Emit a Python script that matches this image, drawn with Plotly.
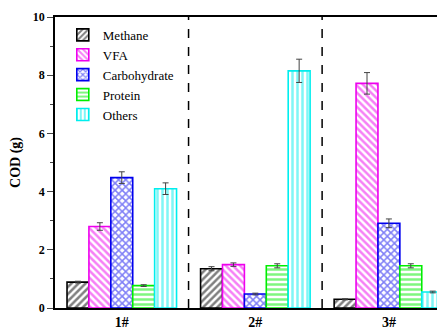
import plotly.graph_objects as go

groups = ["1#", "2#", "3#"]
series = ["Methane", "VFA", "Carbohydrate", "Protein", "Others"]
methane = [0.89, 1.35, 0.30]
vfa = [2.80, 1.49, 7.72]
carb = [4.48, 0.48, 2.91]
protein = [0.77, 1.45, 1.45]
others = [4.10, 8.15, 0.55]
methane_err = [0.03, 0.07, 0.02]
vfa_err = [0.13, 0.06, 0.37]
carb_err = [0.20, 0.03, 0.15]
protein_err = [0.03, 0.07, 0.07]
others_err = [0.20, 0.40, 0.03]
y_ticks = [0, 2, 4, 6, 8, 10]

values = [methane, vfa, carb, protein, others]
errors = [methane_err, vfa_err, carb_err, protein_err, others_err]
colors = ["#000000", "#EE00EE", "#0000EE", "#00EE00", "#00EEEE"]
shapes = ["/", "\\", "x", "-", "|"]

FONT = "'Liberation Serif', 'Times New Roman', Times, serif"
fig = go.Figure()
for name, v, e, c, s in zip(series, values, errors, colors, shapes):
    fig.add_trace(go.Bar(
        name=name, x=groups, y=v,
        error_y=dict(type="data", array=e, color="#444444", thickness=1, width=3),
        marker=dict(color="white", line=dict(color=c, width=1.6),
                    pattern=dict(shape=s, fgcolor=c, bgcolor="white", size=5, solidity=0.5)),
    ))

for xv in [0.5, 1.5]:
    fig.add_shape(type="line", x0=xv, x1=xv, y0=0, y1=10, xref="x", yref="y",
                  line=dict(color="black", width=1.5, dash="dash"))

fig.update_layout(
    width=445, height=328,
    margin=dict(l=47, r=8, t=9, b=28),
    barmode="group", bargap=0.18, bargroupgap=0,
    plot_bgcolor="white", paper_bgcolor="white",
    font=dict(family=FONT, color="black"),
    legend=dict(x=0.02, y=0.99, xanchor="left", yanchor="top",
                font=dict(family=FONT, size=13), bgcolor="rgba(0,0,0,0)",
                tracegroupgap=0, itemwidth=30),
    xaxis=dict(range=[-0.5, 2.42], showline=True, linecolor="black", linewidth=1.5,
               mirror=True, ticks="", automargin=False,
               tickfont=dict(family=FONT, size=14, weight="bold"), showgrid=False),
    yaxis=dict(range=[0, 10], tickvals=y_ticks, showline=True, linecolor="black",
               linewidth=1.5, ticks="outside", ticklen=6, tickwidth=1.2, showgrid=False,
               zeroline=False, automargin=False,
               tickfont=dict(family=FONT, size=12, weight="bold"),
               minor=dict(ticks="outside", ticklen=3, dtick=1, tickwidth=1, showgrid=False),
               title=dict(text="COD (g)", font=dict(family=FONT, size=14, weight="bold"),
                          standoff=10)),
)
fig.write_html("out.html")
